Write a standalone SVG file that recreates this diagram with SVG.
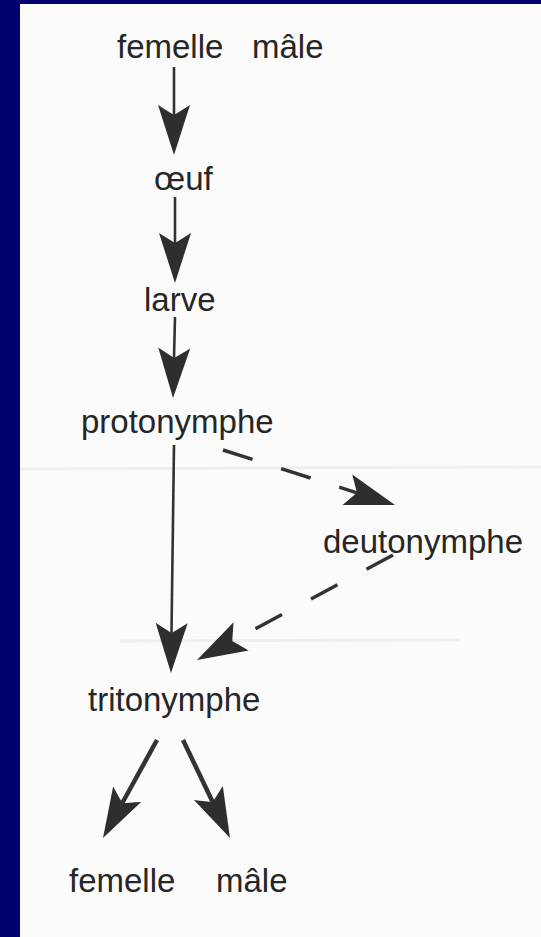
<svg xmlns="http://www.w3.org/2000/svg" width="541" height="937" viewBox="0 0 541 937">
  <style>
    .lbl { font-family: "Liberation Sans", Arial, sans-serif; font-size: 33px; fill: #262626; }
    .solid { fill: none; stroke: #333; stroke-width: 2.6; }
    .thick { fill: none; stroke: #333; stroke-width: 4.5; }
    .dash1 { fill: none; stroke: #333; stroke-width: 3.5; stroke-dasharray: 31 30; }
    .dash2 { fill: none; stroke: #333; stroke-width: 3.5; stroke-dasharray: 30 33; }
    .streak { stroke: #eeeef1; stroke-width: 3; }
  </style>
  <defs>
    <!-- filled dart: origin at the notch, tip 40 ahead, barbs 10 behind -->
    <marker id="dart" markerUnits="userSpaceOnUse" markerWidth="60" markerHeight="40"
            viewBox="-15 -20 60 40" refX="0" refY="0" orient="auto" overflow="visible">
      <path d="M40,0 L-10,-16 Q-3,-5 0,0 Q-3,5 -10,16 Z" fill="#2e2e2e"/>
    </marker>
  </defs>

  <!-- page and frame -->
  <rect x="0" y="0" width="541" height="937" fill="#03006f"/>
  <rect x="20" y="4" width="521" height="933" fill="#fbfbfc"/>
  <line class="streak" x1="20" y1="469" x2="541" y2="467"/>
  <line class="streak" x1="120" y1="641" x2="460" y2="640"/>

  <g id="connectors">
    <line class="solid" x1="174" y1="67" x2="174" y2="115" marker-end="url(#dart)"/>
    <line class="solid" x1="175" y1="197" x2="175" y2="243" marker-end="url(#dart)"/>
    <line class="solid" x1="175" y1="317" x2="174" y2="358" marker-end="url(#dart)"/>
    <line class="solid" x1="174" y1="445" x2="171.5" y2="633" marker-end="url(#dart)"/>
    <line class="dash1" x1="223" y1="450" x2="356.9" y2="492.8" marker-end="url(#dart)"/>
    <line class="dash2" x1="393" y1="555" x2="232.3" y2="641.1" marker-end="url(#dart)"/>
    <line class="thick" x1="157" y1="740" x2="122.3" y2="803" marker-end="url(#dart)"/>
    <line class="thick" x1="183" y1="740" x2="212.7" y2="802" marker-end="url(#dart)"/>
  </g>

  <g id="parents">
    <text class="lbl" x="117" y="58">femelle</text>
    <text class="lbl" x="252" y="58">mâle</text>
  </g>
  <g id="oeuf">
    <text class="lbl" x="154" y="190">œuf</text>
  </g>
  <g id="larve">
    <text class="lbl" x="144" y="311">larve</text>
  </g>
  <g id="protonymphe">
    <text class="lbl" x="81" y="433">protonymphe</text>
  </g>
  <g id="deutonymphe">
    <text class="lbl" x="323" y="553">deutonymphe</text>
  </g>
  <g id="tritonymphe">
    <text class="lbl" x="88" y="711">tritonymphe</text>
  </g>
  <g id="offspring">
    <text class="lbl" x="69" y="892">femelle</text>
    <text class="lbl" x="216" y="892">mâle</text>
  </g>
</svg>
